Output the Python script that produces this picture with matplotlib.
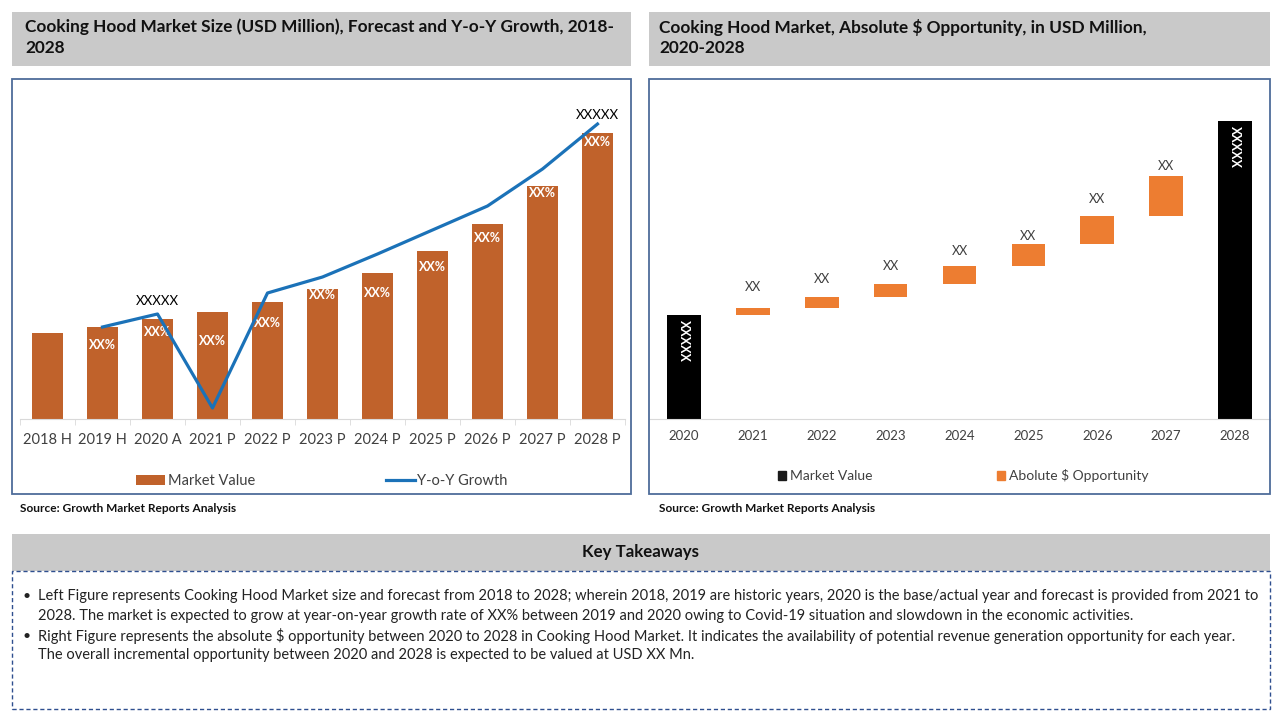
import matplotlib.pyplot as plt
from matplotlib.patches import Rectangle, Patch
import numpy as np

plt.rcParams['font.family'] = ['Lato', 'DejaVu Sans']

## === data ===
years_left = ['2018 H', '2019 H', '2020 A', '2021 P', '2022 P', '2023 P',
              '2024 P', '2025 P', '2026 P', '2027 P', '2028 P']
market_value = [860, 920, 1000, 1070, 1170, 1300, 1460, 1680, 1950, 2330, 2860]
yoy_years = years_left[1:]
yoy_growth = [9.2, 10.5, 1.1, 12.6, 14.2, 16.5, 18.9, 21.3, 25.0, 29.5]
bar_labels = ['', 'XX%', 'XX%', 'XX%', 'XX%', 'XX%', 'XX%', 'XX%', 'XX%', 'XX%', 'XX%']
line_labels = {'2020 A': 'XXXXX', '2028 P': 'XXXXX'}

years_right = ['2020', '2021', '2022', '2023', '2024', '2025', '2026', '2027', '2028']
mv_start = 1040
mv_end = 2980
opportunity = [70, 110, 130, 180, 220, 280, 400]
opp_labels = ['XX'] * 7
mv_labels = ['XXXXX', 'XXXXX']

takeaways = [
    ['Left Figure represents Cooking Hood Market size and forecast from 2018 to 2028; wherein 2018, 2019 are historic years, 2020 is the base/actual year and forecast is provided from 2021 to',
     '2028. The market is expected to grow at year-on-year growth rate of XX% between 2019 and 2020 owing to Covid-19 situation and slowdown in the economic activities.'],
    [r'Right Figure represents the absolute \$ opportunity between 2020 to 2028 in Cooking Hood Market. It indicates the availability of potential revenue generation opportunity for each year.',
     'The overall incremental opportunity between 2020 and 2028 is expected to be valued at USD XX Mn.'],
]

## === style ===
W, H = 1280, 720
c_bar = '#C0622B'
c_line = '#1B72B8'
c_opp = '#ED7D31'
c_head = '#C9C9C9'
c_box = '#4E6C9A'
c_txt = '#404040'

fig = plt.figure(figsize=(12.8, 7.2), dpi=100)
rend = fig.canvas.get_renderer()

def fx(px):
    return px / W

def fy(py):
    return 1 - py / H

def rect(x0, y0, x1, y1, **kw):
    fig.patches.append(Rectangle((fx(x0), fy(y1)), fx(x1 - x0), (y1 - y0) / H,
                                 transform=fig.transFigure, **kw))

def fit(t, target):
    w = t.get_window_extent(rend).width
    t.set_fontsize(t.get_fontsize() * target / w)
    return t

## headers and frames
rect(12, 12, 631, 66, facecolor=c_head, edgecolor='none')
rect(649, 12, 1270, 66, facecolor=c_head, edgecolor='none')
rect(12, 79, 631, 494, facecolor='none', edgecolor=c_box, lw=1.3)
rect(649, 79, 1270, 494, facecolor='none', edgecolor=c_box, lw=1.3)
rect(12, 534, 1270, 571, facecolor=c_head, edgecolor='none')
rect(12, 571, 1270, 709, facecolor='none', edgecolor='#2F4F8F', lw=1, ls=(0, (3, 2)))

t = fig.text(fx(25), fy(27), 'Cooking Hood Market Size (USD Million), Forecast and Y-o-Y Growth, 2018-',
             fontsize=12, weight='bold', va='center', color='#111111')
fit(t, 583)
fig.text(fx(25), fy(48), '2028', fontsize=t.get_fontsize(), weight='bold', va='center', color='#111111')
t2 = fig.text(fx(659), fy(27), r'Cooking Hood Market, Absolute \$ Opportunity, in USD Million,',
              fontsize=t.get_fontsize(), weight='bold', va='center', color='#111111')
fig.text(fx(659), fy(48), '2020-2028', fontsize=t.get_fontsize(), weight='bold', va='center', color='#111111')

for x0 in [20, 659]:
    s = fig.text(fx(x0), fy(509), 'Source: Growth Market Reports Analysis', fontsize=8,
                 weight='bold', va='center', color='#111111')
    fit(s, 218)

k = fig.text(fx(641), fy(552), 'Key Takeaways', fontsize=12, weight='bold',
             ha='center', va='center', color='#111111')
fit(k, 117)

line_y = [596, 616, 636, 655]
ii = 0
fs_take = None
for block in takeaways:
    fig.text(fx(22), fy(line_y[ii]), '\u2022', fontsize=10, va='center', color='#222222')
    for ln in block:
        tt = fig.text(fx(38), fy(line_y[ii]), ln, fontsize=10, va='center', color='#222222')
        if fs_take is None:
            fit(tt, 1222)
            fs_take = tt.get_fontsize()
        else:
            tt.set_fontsize(fs_take)
        ii += 1

## === left chart ===
ax = fig.add_axes([fx(20), fy(419), fx(605), 319 / H])
x = np.arange(len(years_left))
bars = ax.bar(x, market_value, width=0.565, color=c_bar)
ax.set_xlim(-0.5, len(years_left) - 0.5)
ax.set_ylim(0, 3190)
ax.set_xticks(x)
ax.set_xticklabels(years_left, fontsize=10.5, color=c_txt)
ax.set_xticks(np.arange(-0.5, len(years_left), 1), minor=True)
ax.tick_params(axis='x', which='major', length=0, pad=10)
ax.tick_params(axis='x', which='minor', length=4, color='#D9D9D9')
ax.set_yticks([])
for sp in ['top', 'right', 'left']:
    ax.spines[sp].set_visible(False)
ax.spines['bottom'].set_color('#D9D9D9')
ax.patch.set_alpha(0)

lab_off = [0, 13, 9.5, 21, 15, 4.5, 14.5, 11.5, 10, 5, 6.5]
for ii in range(len(years_left)):
    if bar_labels[ii]:
        ax.annotate(bar_labels[ii], (x[ii], market_value[ii]), xytext=(0, -lab_off[ii]),
                    textcoords='offset points', ha='center', va='center', color='white',
                    fontsize=9, weight='bold')

ax2 = ax.twinx()
ax2.set_position(ax.get_position())
xl = np.array([years_left.index(y) for y in yoy_years])
ln, = ax2.plot(xl, yoy_growth, color=c_line, lw=2.3)
ax2.set_ylim(0, 31.9)
ax2.axis('off')
txt_off = {'2020 A': 9.5, '2028 P': 6.5}
for key, lab in line_labels.items():
    j = yoy_years.index(key)
    ax2.annotate(lab, (xl[j], yoy_growth[j]), xytext=(0, txt_off[key]),
                 textcoords='offset points', ha='center', va='center', fontsize=9.5, color='black')

fig.legend([bars, ln], ['Market Value', 'Y-o-Y Growth'], loc='center',
           bbox_to_anchor=(fx(322), fy(481)), ncol=2, frameon=False, fontsize=10.5,
           handlelength=2.0, handletextpad=0.15, columnspacing=9.0, labelcolor=c_txt)

## === right chart ===
axr = fig.add_axes([fx(649.5), fy(419), fx(620), 319 / H])
xr = np.arange(len(years_right))
axr.bar(xr[0], mv_start, width=0.49, color='black')
axr.bar(xr[-1], mv_end, width=0.49, color='black')
bottoms = mv_start + np.concatenate([[0], np.cumsum(opportunity)[:-1]])
axr.bar(xr[1:-1], opportunity, bottom=bottoms, width=0.49, color=c_opp)
axr.set_xlim(-0.5, len(years_right) - 0.5)
axr.set_ylim(0, 3190)
axr.set_xticks(xr)
axr.set_xticklabels(years_right, fontsize=9.5, color=c_txt)
axr.tick_params(axis='x', length=0, pad=8)
axr.set_yticks([])
for sp in ['top', 'right', 'left']:
    axr.spines[sp].set_visible(False)
axr.spines['bottom'].set_color('#D9D9D9')
axr.patch.set_alpha(0)

opp_off = [21, 18, 18, 15, 8, 17, 10]
tops = bottoms + np.array(opportunity)
for ii in range(len(opportunity)):
    axr.annotate(opp_labels[ii], (xr[ii + 1], tops[ii]), xytext=(0, opp_off[ii] / 1.389),
                 textcoords='offset points', ha='center', va='center', fontsize=9, color=c_txt)
for xi, v, lab in zip([xr[0], xr[-1]], [mv_start, mv_end], mv_labels):
    axr.annotate(lab, (xi, v), xytext=(0, -19), textcoords='offset points', ha='center',
                 va='center', rotation=270, color='white', fontsize=9, weight='bold')

fig.legend([Patch(color='#1A1A1A'), Patch(color=c_opp)], ['Market Value', r'Abolute \$ Opportunity'],
           loc='center', bbox_to_anchor=(fx(963), fy(476)), ncol=2, frameon=False, fontsize=10,
           handlelength=0.6, handleheight=0.6, handletextpad=0.25, columnspacing=9.0, labelcolor=c_txt)

fig.savefig('out.png', dpi=100)
